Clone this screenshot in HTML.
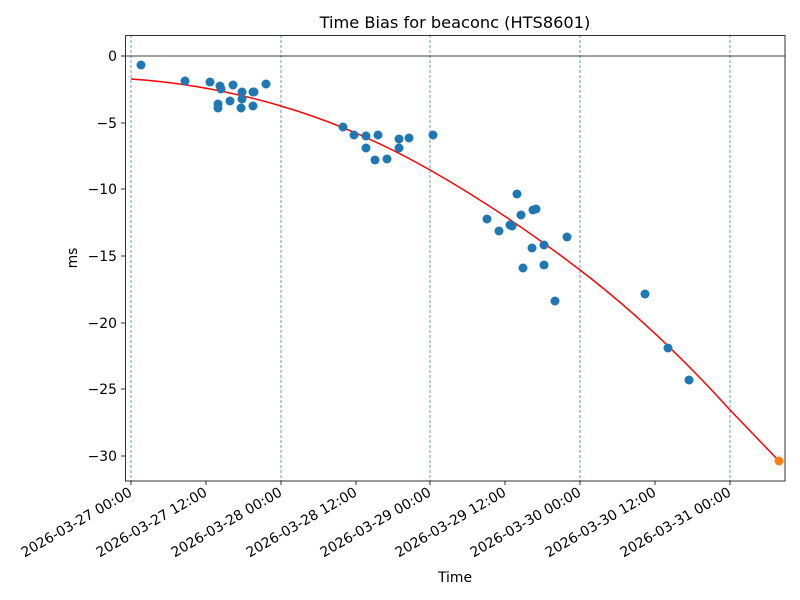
<!DOCTYPE html>
<html><head><meta charset="utf-8"><style>body{margin:0;background:#fff}svg{display:block;font-family:"DejaVu Sans","Liberation Sans",sans-serif}</style></head><body>
<svg width="800" height="600" viewBox="0 0 800 600" xmlns="http://www.w3.org/2000/svg">
<rect width="800" height="600" fill="#fff"/>
<text x="455" y="28" font-size="16.2" text-anchor="middle">Time Bias for beaconc (HTS8601)</text>
<g stroke="#1f77b4" stroke-width="0.7" stroke-dasharray="3,2">
<line x1="131" y1="35" x2="131" y2="481"/><line x1="281" y1="35" x2="281" y2="481"/><line x1="430" y1="35" x2="430" y2="481"/><line x1="580" y1="35" x2="580" y2="481"/><line x1="730" y1="35" x2="730" y2="481"/>
</g>
<line x1="125" y1="56" x2="785" y2="56" stroke="#000" stroke-width="0.8"/>
<path d="M131,79 Q206,84 281,106 T430,170 T580,270 T730,410 L779,461" fill="none" stroke="red" stroke-width="1.5"/>
<g fill="#1f77b4">
<circle cx="141" cy="65" r="4.5"/><circle cx="185" cy="81" r="4.5"/><circle cx="210" cy="82" r="4.5"/><circle cx="220" cy="86" r="4.5"/><circle cx="221" cy="89" r="4.5"/><circle cx="218" cy="104" r="4.5"/><circle cx="218" cy="108" r="4.5"/><circle cx="230" cy="101" r="4.5"/><circle cx="233" cy="85" r="4.5"/><circle cx="242" cy="92" r="4.5"/><circle cx="242" cy="99" r="4.5"/><circle cx="241" cy="108" r="4.5"/><circle cx="253" cy="92" r="4.5"/><circle cx="254" cy="92" r="4.5"/><circle cx="253" cy="106" r="4.5"/><circle cx="266" cy="84" r="4.5"/><circle cx="343" cy="127" r="4.5"/><circle cx="354" cy="135" r="4.5"/><circle cx="366" cy="136" r="4.5"/><circle cx="366" cy="148" r="4.5"/><circle cx="378" cy="135" r="4.5"/><circle cx="375" cy="160" r="4.5"/><circle cx="387" cy="159" r="4.5"/><circle cx="399" cy="139" r="4.5"/><circle cx="399" cy="148" r="4.5"/><circle cx="409" cy="138" r="4.5"/><circle cx="433" cy="135" r="4.5"/><circle cx="487" cy="219" r="4.5"/><circle cx="499" cy="231" r="4.5"/><circle cx="510" cy="225" r="4.5"/><circle cx="512" cy="226" r="4.5"/><circle cx="517" cy="194" r="4.5"/><circle cx="521" cy="215" r="4.5"/><circle cx="523" cy="268" r="4.5"/><circle cx="532" cy="248" r="4.5"/><circle cx="533" cy="210" r="4.5"/><circle cx="536" cy="209" r="4.5"/><circle cx="544" cy="245" r="4.5"/><circle cx="544" cy="265" r="4.5"/><circle cx="555" cy="301" r="4.5"/><circle cx="567" cy="237" r="4.5"/><circle cx="645" cy="294" r="4.5"/><circle cx="668" cy="348" r="4.5"/><circle cx="689" cy="380" r="4.5"/>
</g>
<circle cx="779" cy="461" r="4.5" fill="#ff7f0e"/>
<rect x="125.5" y="35.5" width="659.5" height="445.5" fill="none" stroke="#000" stroke-width="0.8"/>
<g stroke="#000" stroke-width="0.8">
<line x1="121" y1="56" x2="125" y2="56"/><line x1="121" y1="123" x2="125" y2="123"/><line x1="121" y1="189" x2="125" y2="189"/><line x1="121" y1="256" x2="125" y2="256"/><line x1="121" y1="323" x2="125" y2="323"/><line x1="121" y1="389" x2="125" y2="389"/><line x1="121" y1="456" x2="125" y2="456"/>
<line x1="131" y1="481" x2="131" y2="485"/><line x1="206" y1="481" x2="206" y2="485"/><line x1="281" y1="481" x2="281" y2="485"/><line x1="356" y1="481" x2="356" y2="485"/><line x1="430" y1="481" x2="430" y2="485"/><line x1="505" y1="481" x2="505" y2="485"/><line x1="580" y1="481" x2="580" y2="485"/><line x1="655" y1="481" x2="655" y2="485"/><line x1="730" y1="481" x2="730" y2="485"/>
</g>
<g font-size="13.9" text-anchor="end">
<text x="117" y="61">0</text><text x="117" y="128">−5</text><text x="117" y="194">−10</text><text x="117" y="261">−15</text><text x="117" y="328">−20</text><text x="117" y="394">−25</text><text x="117" y="461">−30</text>
</g>
<g font-size="13.9" text-anchor="end">
<text transform="translate(133,495) rotate(-30)">2026-03-27 00:00</text>
<text transform="translate(208,495) rotate(-30)">2026-03-27 12:00</text>
<text transform="translate(283,495) rotate(-30)">2026-03-28 00:00</text>
<text transform="translate(358,495) rotate(-30)">2026-03-28 12:00</text>
<text transform="translate(432,495) rotate(-30)">2026-03-29 00:00</text>
<text transform="translate(507,495) rotate(-30)">2026-03-29 12:00</text>
<text transform="translate(582,495) rotate(-30)">2026-03-30 00:00</text>
<text transform="translate(657,495) rotate(-30)">2026-03-30 12:00</text>
<text transform="translate(732,495) rotate(-30)">2026-03-31 00:00</text>
</g>
<text x="455" y="582" font-size="13.9" text-anchor="middle">Time</text>
<text transform="translate(77,258) rotate(-90)" font-size="13.9" text-anchor="middle">ms</text>
</svg>
</body></html>
